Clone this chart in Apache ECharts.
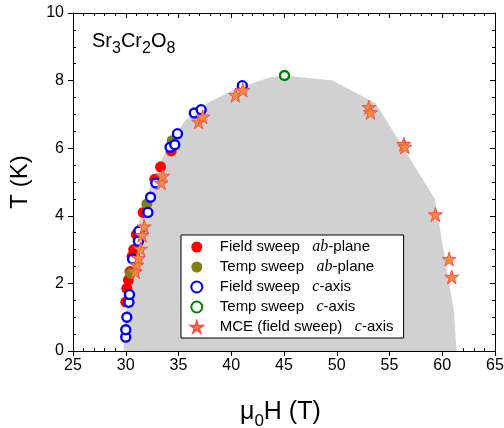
<!DOCTYPE html>
<html>
<head>
<meta charset="utf-8">
<script src="https://cdn.jsdelivr.net/npm/echarts@6/dist/echarts.min.js"></script>
<style>html,body{margin:0;padding:0;background:#fff}#c{width:504px;height:428px}</style>
</head>
<body>
<div id="c"></div>
<script>
// Data (x: mu0H in T, y: T in K)
var fieldAB = [[30.0,1.45],[30.1,1.85],[30.25,2.1],[30.4,2.35],[30.6,2.8],[30.75,3.0],[31.0,3.45],[31.65,4.1],[32.75,5.08],[33.3,5.45],[34.3,5.92]];
var tempAB = [[30.45,2.3],[32.0,4.35],[34.4,6.22]];
var fieldC = [[30.0,0.41],[30.0,0.63],[30.1,1.0],[30.3,1.44],[30.35,1.67],[30.65,2.72],[31.2,3.25],[31.25,3.55],[32.1,4.1],[32.35,4.55],[32.85,4.97],[34.2,6.03],[34.65,6.1],[34.9,6.43],[36.5,7.04],[37.15,7.14],[41.05,7.85]];
var tempC = [[45.05,8.15]];
var mce = [[30.9,2.35],[31.05,2.55],[31.2,2.75],[31.4,3.02],[31.55,3.43],[31.75,3.68],[33.35,4.98],[33.5,5.18],[36.9,6.78],[37.3,6.93],[40.4,7.57],[41.1,7.72],[53.05,7.21],[53.2,7.06],[56.35,6.12],[56.45,6.04],[59.35,4.04],[60.65,2.72],[60.9,2.19]];
var phaseBoundary = [[29.8,0],[29.8,0.3],[29.9,0.8],[30.05,1.3],[30.25,1.8],[30.5,2.3],[30.7,2.8],[30.95,3.3],[31.4,4.0],[31.9,4.5],[32.5,5.0],[33.3,5.6],[34.3,6.2],[35.65,6.83],[37.7,7.33],[40.2,7.72],[41.8,7.9],[43.7,8.1],[45.0,8.15],[49.6,8.0],[53.7,7.33],[59.3,4.5],[61.1,1.2],[61.35,0]];
var seriesNames = ['Field sweep ab-plane','Temp sweep ab-plane','Field sweep c-axis','Temp sweep c-axis','MCE (field sweep) c-axis'];
var legendLabels = {
  'Field sweep ab-plane': '{n|Field sweep   }{i|ab}{n|-plane}',
  'Temp sweep ab-plane': '{n|Temp sweep   }{i|ab}{n|-plane}',
  'Field sweep c-axis': '{n|Field sweep   }{i|c}{n|-axis}',
  'Temp sweep c-axis': '{n|Temp sweep   }{i|c}{n|-axis}',
  'MCE (field sweep) c-axis': '{n|MCE (field sweep)   }{i|c}{n|-axis}'
};

var FONT = 'Liberation Sans';
var STAR = 'path://M50,0 L61.2,34.5 L97.6,34.5 L68.2,55.9 L79.4,90.5 L50,69.1 L20.6,90.5 L31.8,55.9 L2.4,34.5 L38.8,34.5 Z';
var black = {color:'#000', width:1};

var chart = echarts.init(document.getElementById('c'), null, {renderer:'canvas'});
chart.setOption({
  animation: false,
  backgroundColor: '#fff',
  grid: {left:73, right:9, top:13, bottom:77, containLabel:false, outerBoundsMode:'none'},
  xAxis: [
    {type:'value', min:25, max:65, interval:5, position:'bottom',
     axisLine:{show:true, onZero:false, lineStyle:black},
     axisTick:{show:true, inside:false, length:5, lineStyle:black},
     minorTick:{show:false}, splitLine:{show:false}, minorSplitLine:{show:false},
     axisLabel:{fontSize:16, color:'#000', fontFamily:FONT, margin:7}},
    {type:'value', min:25, max:65, interval:5, position:'bottom',
     axisLine:{show:false, onZero:false}, axisTick:{show:false, inside:true},
     minorTick:{show:true, splitNumber:5, length:3, lineStyle:black},
     axisLabel:{show:false}, splitLine:{show:false}},
    {type:'value', min:25, max:65, interval:5, position:'top',
     axisLine:{show:true, onZero:false, lineStyle:black},
     axisTick:{show:true, inside:true, length:5, lineStyle:black},
     minorTick:{show:true, splitNumber:5, length:3, lineStyle:black},
     axisLabel:{show:false}, splitLine:{show:false}}
  ],
  yAxis: [
    {type:'value', min:0, max:10, interval:2, position:'left',
     axisLine:{show:true, onZero:false, lineStyle:black},
     axisTick:{show:true, inside:false, length:5, lineStyle:black},
     minorTick:{show:false}, splitLine:{show:false},
     axisLabel:{fontSize:16, color:'#000', fontFamily:FONT, margin:9},
     name:'T (K)', nameLocation:'middle', nameGap:41, nameRotate:90,
     nameTextStyle:{fontSize:24, fontFamily:FONT, color:'#000'}},
    {type:'value', min:0, max:10, interval:2, position:'left',
     axisLine:{show:false, onZero:false}, axisTick:{show:false, inside:true},
     minorTick:{show:true, splitNumber:4, length:3, lineStyle:black},
     axisLabel:{show:false}, splitLine:{show:false}},
    {type:'value', min:0, max:10, interval:2, position:'right',
     axisLine:{show:true, onZero:false, lineStyle:black},
     axisTick:{show:true, inside:true, length:5, lineStyle:black},
     minorTick:{show:true, splitNumber:4, length:3, lineStyle:black},
     axisLabel:{show:false}, splitLine:{show:false}}
  ],
  legend: {
    data: seriesNames, orient:'vertical', left:181, top:235,
    backgroundColor:'#fff', borderColor:'#000', borderWidth:1, borderRadius:0,
    padding:[4,10,3,9], itemWidth:30, itemHeight:11, itemGap:4,
    formatter: function(n){ return legendLabels[n]; },
    textStyle:{padding:[0,0,0,3], rich:{
      n:{fontSize:15, fontFamily:FONT, color:'#000', lineHeight:17},
      i:{fontSize:16, fontFamily:'Liberation Serif', fontStyle:'italic', color:'#000', lineHeight:17}
    }}
  },
  graphic: [{
    type:'text', left:92, top:31, z:10,
    style:{text:'{a|Sr}{s|3}{a|Cr}{s|2}{a|O}{s|8}', rich:{
      a:{fontSize:20, fontFamily:FONT, fill:'#000', lineHeight:40},
      s:{fontSize:16, fontFamily:FONT, fill:'#000', padding:[15,0,0,0]}
    }}
  }, {
    type:'text', left:240, top:400, z:10,
    style:{text:'{a|μ}{s|0}{a|H (T)}', rich:{
      a:{fontSize:25, fontFamily:FONT, fill:'#000', lineHeight:44},
      s:{fontSize:17, fontFamily:FONT, fill:'#000', padding:[17,0,0,0]}
    }}
  }],
  series: [
    {type:'line', name:'boundary', data:phaseBoundary, showSymbol:false, symbol:'none', silent:true,
     lineStyle:{width:0, opacity:0}, areaStyle:{color:'#d1d1d1', opacity:1}, z:1},
    {type:'scatter', name:seriesNames[0], data:fieldAB, symbol:'circle', symbolSize:11,
     itemStyle:{color:'#ff0000', opacity:1}, z:2},
    {type:'scatter', name:seriesNames[1], data:tempAB, symbol:'circle', symbolSize:11,
     itemStyle:{color:'#7f7f14', opacity:1}, z:3},
    {type:'scatter', name:seriesNames[2], data:fieldC, symbol:'circle', symbolSize:9,
     itemStyle:{color:'#ffffff', borderColor:'#0000ff', borderWidth:2.4, opacity:1}, z:4},
    {type:'scatter', name:seriesNames[3], data:tempC, symbol:'circle', symbolSize:9,
     itemStyle:{color:'#ffffff', borderColor:'#008000', borderWidth:2.4, opacity:1}, z:5},
    {type:'scatter', name:seriesNames[4], data:mce, symbol:STAR, symbolSize:14,
     itemStyle:{color:'#f58a40', borderColor:'#f2514a', borderWidth:1, opacity:1}, z:6}
  ]
});
</script>
</body>
</html>
